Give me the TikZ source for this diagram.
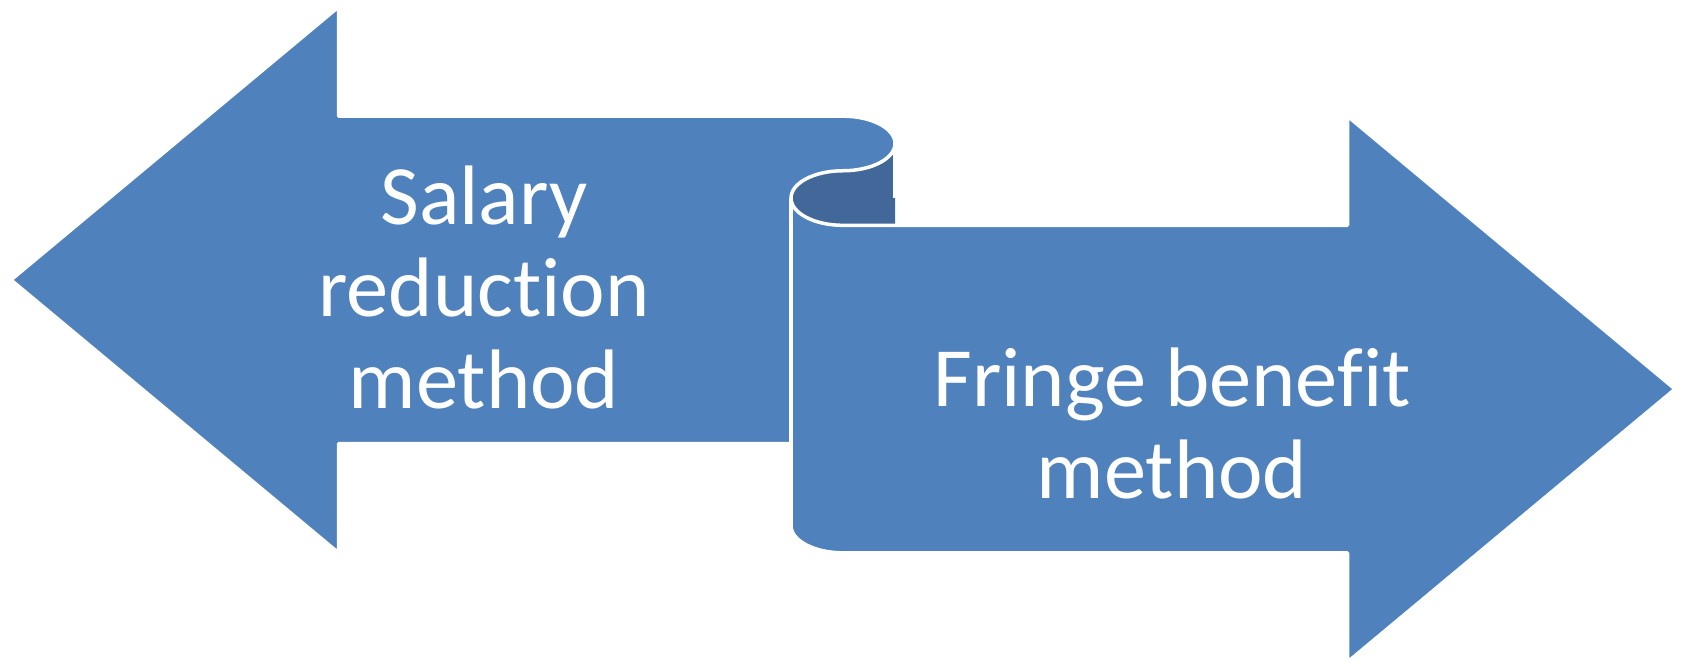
\documentclass[tikz,border=0pt]{standalone}
\usepackage{fontspec}
\setmainfont{Carlito}[Ligatures={NoCommon,NoRare,NoContextual}]
\definecolor{ribbon}{HTML}{4F81BD}
\definecolor{ribbondark}{HTML}{416899}
\begin{document}
\begin{tikzpicture}[x=0.01cm,y=0.01cm,
  outl/.style={draw=white,line width=0.035cm,line join=round},
  lbl/.style={text=white,font=\fontsize{24}{26}\selectfont,anchor=base,inner sep=0pt}]
\useasboundingbox (0,0) rectangle (1683,663);
% main ribbon body
\def\ribbonpath{(11,383.08) -- (338.5,656) -- (338.5,546.83) -- (843,546.83)
  arc[start angle=90,end angle=-90,x radius=52,y radius=27.29]
  arc[start angle=90,end angle=270,x radius=52,y radius=27.29]
  -- (1347.5,437.67) -- (1347.5,546.83) -- (1675,273.92) -- (1347.5,1)
  -- (1347.5,110.17) -- (843,110.17)
  arc[start angle=270,end angle=180,x radius=52,y radius=27.29]
  -- (791,219.33) -- (338.5,219.33) -- (338.5,110.17) -- cycle}
\path[fill=ribbon] \ribbonpath;
% inside of the curl
\path[fill=ribbondark] (895,519.54)
  arc[start angle=0,end angle=-90,x radius=52,y radius=27.29]
  arc[start angle=90,end angle=270,x radius=52,y radius=27.29]
  -- (895,437.67) -- cycle;
% white outline
\path[outl] \ribbonpath;
\path[outl] (895,519.54) -- (895,464.96);
\path[outl] (791,464.96) -- (791,219.33);
% labels
\node[lbl] (s1) at (484,439) {Salary};
\node[lbl] (s2) at (484,347) {reduction};
\node[lbl] (s3) at (484,255) {method};
\node[lbl] (f1) at (1172,257) {Fringe benefit};
\node[lbl] (f2) at (1172,165) {method};
\end{tikzpicture}
\end{document}
